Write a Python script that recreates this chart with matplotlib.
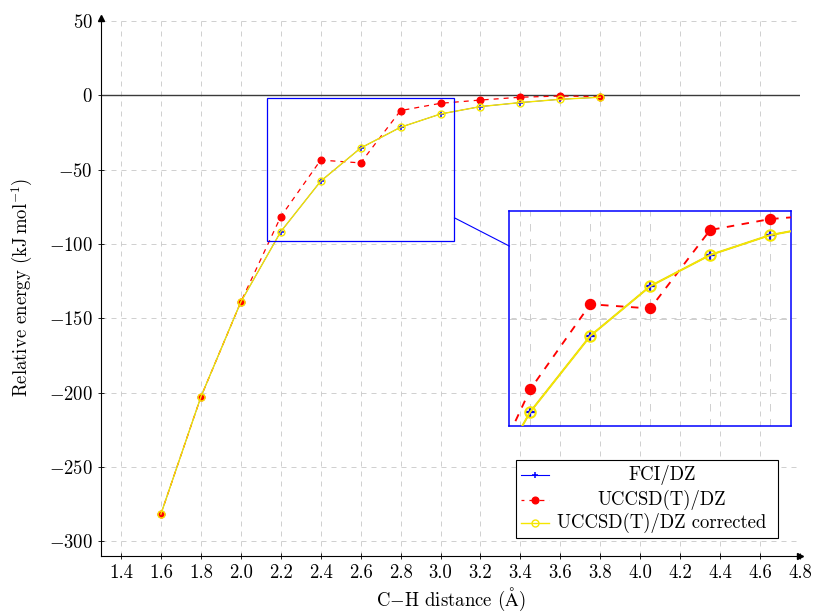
import matplotlib
matplotlib.use("Agg")
import matplotlib.pyplot as plt
from matplotlib.patches import Rectangle
from matplotlib.lines import Line2D
from matplotlib.ticker import FixedLocator, FixedFormatter, MultipleLocator

# ---- data -------------------------------------------------------------
distance = [1.6, 1.8, 2.0, 2.2, 2.4, 2.6, 2.8, 3.0, 3.2, 3.4, 3.6, 3.8]
fci_dz = [-281.8, -203.0, -139.1, -91.8, -57.8, -35.5, -21.5, -12.6, -7.6, -4.9, -2.7, -1.3]
uccsdt_dz = [-281.8, -203.0, -139.1, -81.7, -43.6, -45.5, -10.3, -5.4, -3.2, -1.3, -0.5, -0.9]
uccsdt_dz_corr = [-281.8, -203.0, -139.1, -91.8, -57.8, -35.5, -21.5, -12.6, -7.6, -4.9, -2.7, -1.3]

x_ticks = [1.4, 1.6, 1.8, 2.0, 2.2, 2.4, 2.6, 2.8, 3.0, 3.2, 3.4, 3.6, 3.8, 4.0, 4.2, 4.4, 4.6, 4.8]
x_tick_labels = ["1.4", "1.6", "1.8", "2.0", "2.2", "2.4", "2.6", "2.8", "3.0", "3.2",
                 "3.4", "3.6", "3.8", "4.0", "4.2", "4.4", "4.6", "4.8"]
y_ticks = [-300, -250, -200, -150, -100, -50, 0, 50]
y_tick_labels = ["$-300$", "$-250$", "$-200$", "$-150$", "$-100$", "$-50$", "$0$", "$50$"]

series_labels = ["FCI/DZ", "UCCSD(T)/DZ", "UCCSD(T)/DZ corrected"]

# ---- style ------------------------------------------------------------
FS = 13.5
plt.rcParams.update({
    "font.family": "serif",
    "font.serif": ["cmr10"],
    "mathtext.fontset": "cm",
    "axes.formatter.use_mathtext": True,
    "font.size": FS,
    "lines.scale_dashes": False,
})

BLUE = "#0000ff"
RED = "#ff0000"
YELLOW = "#f5e600"
GRID = "#c8c8c8"

W, H = 813, 612
fig = plt.figure(figsize=(W / 100, H / 100), dpi=100)
ax = fig.add_axes([101 / W, 1 - 556 / H, 699 / W, 538 / H])
ax.set_xlim(1.3, 4.8)
ax.set_ylim(-310, 52)

ax.xaxis.set_major_locator(FixedLocator(x_ticks))
ax.xaxis.set_major_formatter(FixedFormatter(x_tick_labels))
ax.yaxis.set_major_locator(FixedLocator(y_ticks))
ax.yaxis.set_major_formatter(FixedFormatter(y_tick_labels))
ax.tick_params(direction="inout", length=4, width=0.6, pad=4, labelsize=FS)

ax.grid(True, color=GRID, linestyle=(0, (3.6, 3.6)), linewidth=0.6)
ax.set_axisbelow(True)
for side in ("top", "right"):
    ax.spines[side].set_visible(False)
for side in ("left", "bottom"):
    ax.spines[side].set_linewidth(0.8)
    ax.spines[side].set_color("black")

# arrow heads on the axis lines
ax.plot([1], [0], marker=">", ms=4, color="black", transform=ax.transAxes, clip_on=False)
ax.plot([0], [1], marker="^", ms=4, color="black", transform=ax.transAxes, clip_on=False)

ax.axhline(0, color="#3a3a3a", lw=1.0, zorder=1.5)


def draw_series(target, s=1.0):
    target.plot(distance, fci_dz, color=BLUE, lw=0.6 * s, marker="+", ms=5 * s,
                mew=1.1 * s, zorder=3)
    target.plot(distance, uccsdt_dz, color=RED, lw=0.9 * s,
                linestyle=(0, (3.6 * s, 3.6 * s)), marker="o", ms=4.8 * s,
                mfc=RED, mec=RED, zorder=3)
    target.plot(distance, uccsdt_dz_corr, color=YELLOW, lw=1.0 * s, marker="o",
                ms=5 * s, mfc="none", mec=YELLOW, mew=1.0 * s, zorder=3)


draw_series(ax)

ax.set_xlabel(r"C$-$H distance ($\mathrm{\AA}$)", fontsize=FS)
ax.xaxis.label.set_va("center")
ax.xaxis.set_label_coords(0.5, -(599 - 556) / 538)
ax.set_ylabel(r"Relative energy (kJ$\,$mol$^{-1}$)", fontsize=FS)
ax.yaxis.label.set_va("center")
ax.yaxis.set_label_coords(-(101 - 22) / 699, 0.5)

# ---- magnified view ---------------------------------------------------
spy_cx, spy_cy = 2.6, -50.0
spy_hw, spy_hh = 0.47, 48.25
mag = 1.5
ins_cx, ins_cy = 4.05, -150.2

ax.add_patch(Rectangle((spy_cx - spy_hw, spy_cy - spy_hh), 2 * spy_hw, 2 * spy_hh,
                       fill=False, ec=BLUE, lw=0.9, zorder=4))

ins = ax.inset_axes([ins_cx - mag * spy_hw, ins_cy - mag * spy_hh,
                     2 * mag * spy_hw, 2 * mag * spy_hh], transform=ax.transData)
ins.set_facecolor("none")
ins.set_xlim(spy_cx - spy_hw, spy_cx + spy_hw)
ins.set_ylim(spy_cy - spy_hh, spy_cy + spy_hh)
ins.xaxis.set_major_locator(MultipleLocator(0.2))
ins.yaxis.set_major_locator(MultipleLocator(50))
ins.tick_params(left=False, bottom=False, labelleft=False, labelbottom=False)
ins.grid(True, color=GRID, linestyle=(0, (3.6 * mag, 3.6 * mag)), linewidth=0.6)
ins.set_axisbelow(True)
for sp in ins.spines.values():
    sp.set_color(BLUE)
    sp.set_linewidth(1.1)
draw_series(ins, mag)

# connecting line between the two boxes, along the line joining their centres
x_a = spy_cx + spy_hw
x_b = ins_cx - mag * spy_hw
t_a = (x_a - spy_cx) / (ins_cx - spy_cx)
t_b = (x_b - spy_cx) / (ins_cx - spy_cx)
ax.plot([x_a, x_b],
        [spy_cy + t_a * (ins_cy - spy_cy), spy_cy + t_b * (ins_cy - spy_cy)],
        color=BLUE, lw=0.8, zorder=4)

# ---- legend -----------------------------------------------------------
def fpx(x, y):
    return x / W, 1 - y / H


bx0, by0 = fpx(516, 538)
bx1, by1 = fpx(778, 460)
fig.add_artist(Rectangle((bx0, by0), bx1 - bx0, by1 - by0, transform=fig.transFigure,
                         facecolor="white", edgecolor="black", lw=0.8, zorder=10))
rows = [475, 500, 522.7]
hx0, hx1, hxm = 520.7, 549.3, 535.0
styles = [
    dict(color=BLUE, lw=0.8, marker="+", ms=5, mew=1.1, ls="-"),
    dict(color=RED, lw=0.9, marker="o", ms=4.8, mfc=RED, mec=RED, ls=(1.5, (3.6, 3.6))),
    dict(color=YELLOW, lw=1.0, marker="o", ms=5, mfc="none", mec=YELLOW, mew=1.0, ls="-"),
]
for ry, st, lab in zip(rows, styles, series_labels):
    st = dict(st)
    mk = {k: st.pop(k) for k in ("marker", "ms", "mew", "mfc", "mec") if k in st}
    (xa, ya), (xb, _) = fpx(hx0, ry), fpx(hx1, ry)
    fig.add_artist(Line2D([xa, xb], [ya, ya], transform=fig.transFigure,
                          color=st["color"], lw=st["lw"], linestyle=st["ls"], zorder=11))
    xm, ym = fpx(hxm, ry)
    fig.add_artist(Line2D([xm], [ym], transform=fig.transFigure, color=st["color"],
                          linestyle="none", zorder=12, **mk))
    tx, ty = fpx(662, ry)
    fig.text(tx, ty, lab, ha="center", va="center", fontsize=FS, zorder=12)

fig.savefig("out.png", dpi=100)
